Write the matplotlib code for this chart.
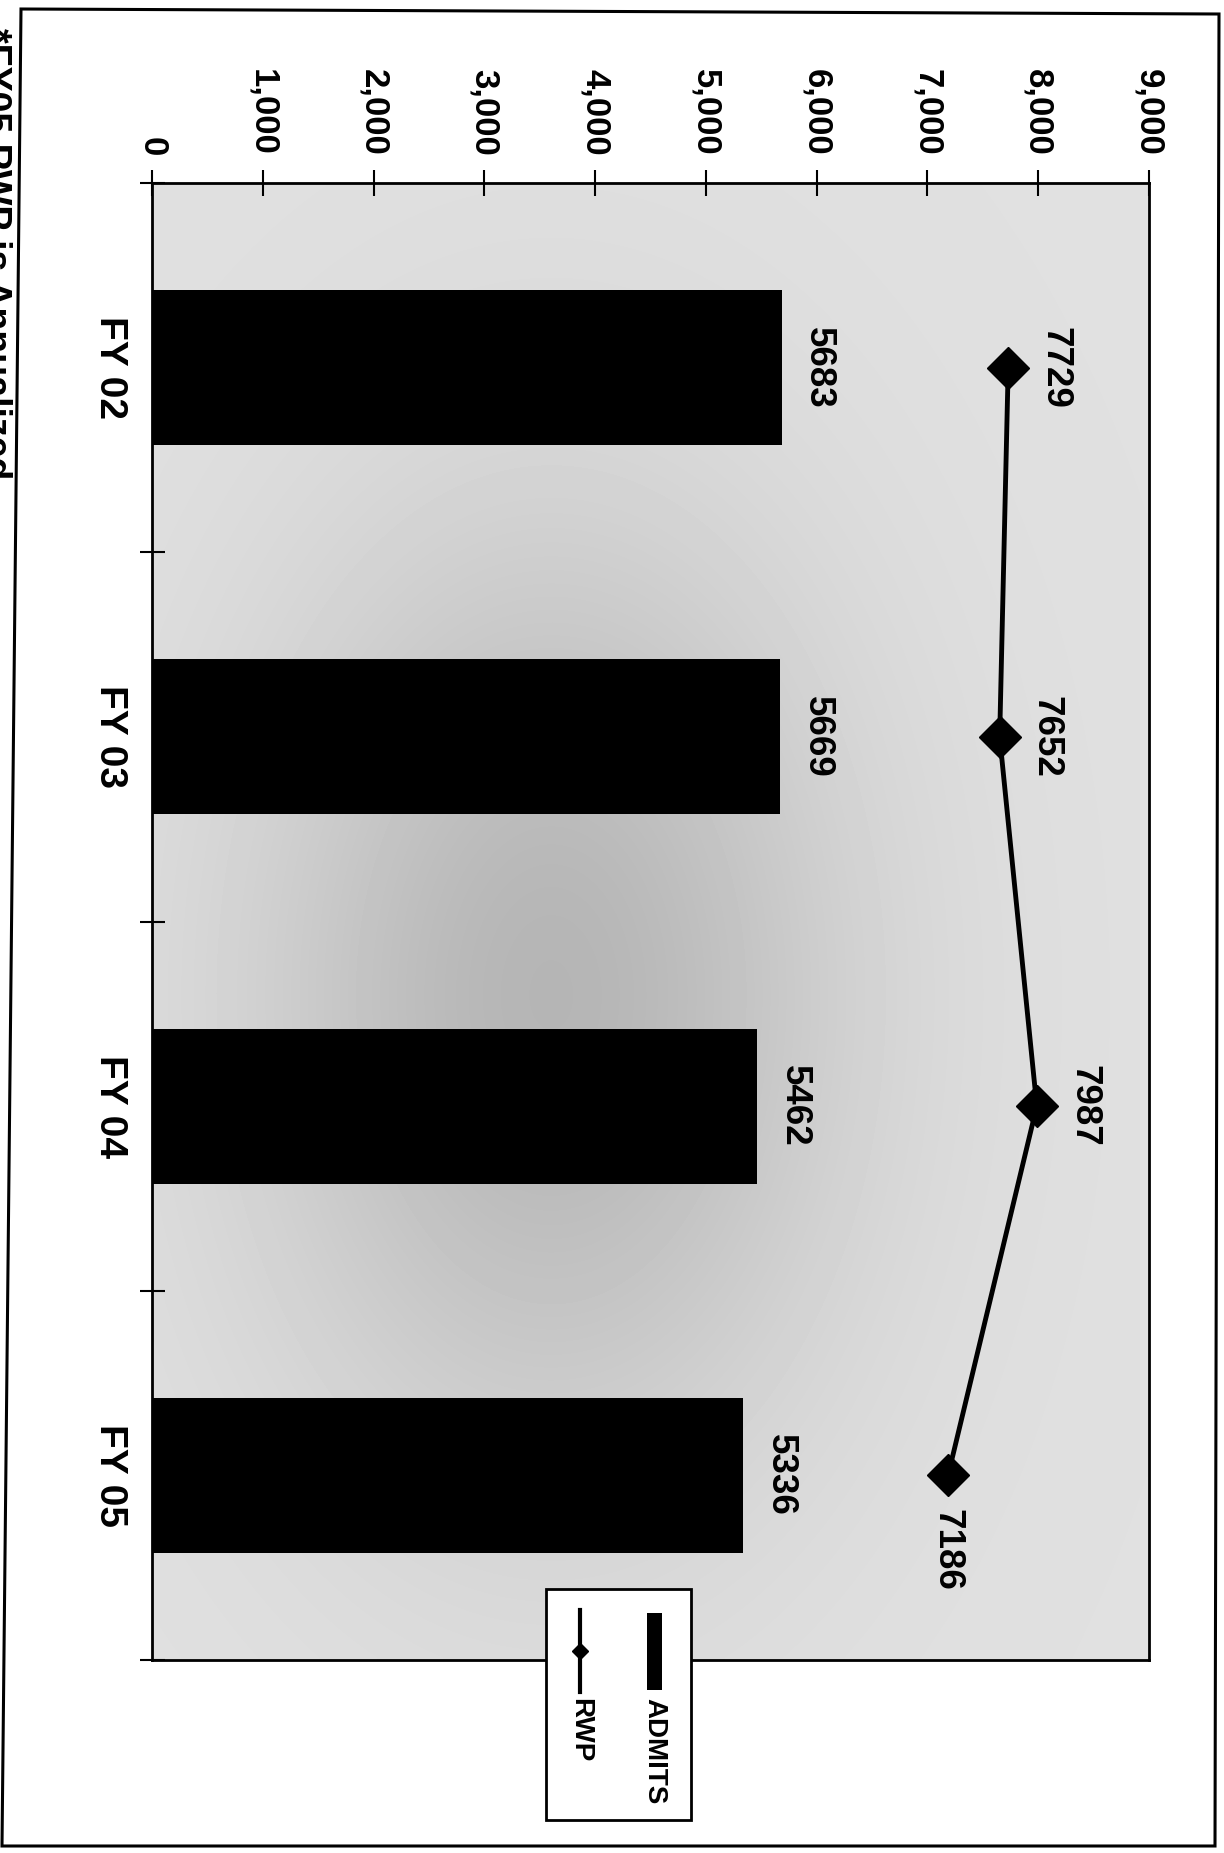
import numpy as np
import matplotlib
matplotlib.use("Agg")
import matplotlib.pyplot as plt
from matplotlib.patches import Rectangle, Polygon
from matplotlib.lines import Line2D
from matplotlib.transforms import Affine2D

# ---- data ----
years = ["FY 02", "FY 03", "FY 04", "FY 05"]
admits = [5683, 5669, 5462, 5336]
rwp = [7729, 7652, 7987, 7186]
value_ticks = [0, 1000, 2000, 3000, 4000, 5000, 6000, 7000, 8000, 9000]
series_names = ["ADMITS", "RWP"]
footnote = "*FY05 RWP is Annualized"

plt.rcParams["font.family"] = ["Liberation Sans", "DejaVu Sans"]
plt.rcParams["font.weight"] = "bold"

W, H = 1224, 1853
fig = plt.figure(figsize=(W / 100, H / 100), dpi=100)
fig.patch.set_facecolor("white")

# pixel-based transform (origin top-left, y downward)
px = Affine2D().scale(1 / W, -1 / H).translate(0, 1) + fig.transFigure

# plot area, laid out sideways: values run left->right, years top->bottom
left, right, top, bottom = 152, 1149, 183, 1660
ax = fig.add_axes([left / W, 1 - bottom / H, (right - left) / W, (bottom - top) / H])

# shaded plot-area fill
nx, ny = 200, 300
xn = np.linspace(0, 1, nx)[None, :]
yn = np.linspace(0, 1, ny)[:, None]
shade = 0.88 - 0.17 * np.exp(-((xn - 0.40) / 0.30) ** 2 - ((yn - 0.55) / 0.32) ** 2)
ax.imshow(shade, extent=[0, 9000, len(years) - 0.5, -0.5], aspect="auto",
          cmap="gray", vmin=0, vmax=1, zorder=0, interpolation="bilinear")

pos = np.arange(len(years))
ax.barh(pos, admits, height=0.42, color="black", zorder=2)
ax.plot(rwp, pos, color="black", lw=3.5, marker="D", ms=21, mfc="black",
        mec="black", zorder=3)

ax.set_xlim(0, 9000)
ax.set_ylim(len(years) - 0.5, -0.5)

# value axis on top
ax.xaxis.tick_top()
ax.set_xticks(value_ticks)
ax.set_xticklabels([f"{v:,}" for v in value_ticks], rotation=-90,
                   fontsize=25, fontweight="bold")
ax.tick_params(axis="x", direction="inout", length=19, width=1.5, pad=10,
               colors="black")

# category axis: tick marks between years, labels centred on each year
ax.set_yticks(np.arange(-0.5, len(years), 1.0))
ax.set_yticklabels([])
ax.set_yticks(pos, minor=True)
ax.set_yticklabels(years, minor=True, rotation=-90, fontsize=28,
                   fontweight="bold", va="center")
ax.tick_params(axis="y", which="major", direction="inout", length=18, width=1.5)
ax.tick_params(axis="y", which="minor", length=0, pad=17)

for s in ax.spines.values():
    s.set_linewidth(2)
    s.set_color("black")

# value labels
for i, v in enumerate(admits):
    ax.annotate(str(v), (v, i), xytext=(14, 0), textcoords="offset points",
                rotation=-90, ha="left", va="center", fontsize=26.5,
                fontweight="bold", zorder=4)
for i, v in enumerate(rwp):
    if i == len(rwp) - 1:
        ax.annotate(str(v), (v, i), xytext=(-1, -24), textcoords="offset points",
                    rotation=-90, ha="center", va="top", fontsize=26.5,
                    fontweight="bold", zorder=4)
    else:
        ax.annotate(str(v), (v, i), xytext=(21, 0), textcoords="offset points",
                    rotation=-90, ha="left", va="center", fontsize=26.5,
                    fontweight="bold", zorder=4)

# legend box
fig.add_artist(Rectangle((546, 1589), 145, 231, transform=px, facecolor="white",
                         edgecolor="black", lw=2, zorder=5))
fig.add_artist(Rectangle((647, 1613), 15, 77, transform=px, facecolor="black",
                         edgecolor="none", zorder=6))
fig.add_artist(Line2D([580, 580], [1610, 1692], transform=px, color="black",
                      lw=3, marker=None, zorder=6))
fig.add_artist(Line2D([580], [1651], transform=px, color="black", marker="D",
                      ms=8.5, zorder=6))
fig.text(654 / W, 1 - 1698 / H, series_names[0], rotation=-90, ha="center",
         va="top", fontsize=20, fontweight="bold", zorder=6)
fig.text(580 / W, 1 - 1698 / H, series_names[1], rotation=-90, ha="center",
         va="top", fontsize=20, fontweight="bold", zorder=6)

# chart-area border
fig.add_artist(Polygon([(21, 9), (1219, 14), (1215, 1846), (2, 1846)],
                       closed=True, transform=px, fill=False,
                       edgecolor="black", lw=2.2, zorder=7))

# footnote along the left edge, running off the page
fig.text(-16 / W, 1 - 28 / H, footnote, rotation=-90, rotation_mode="anchor",
         ha="left", va="baseline", fontsize=27, fontweight="bold")

fig.savefig("out.png", dpi=100)
